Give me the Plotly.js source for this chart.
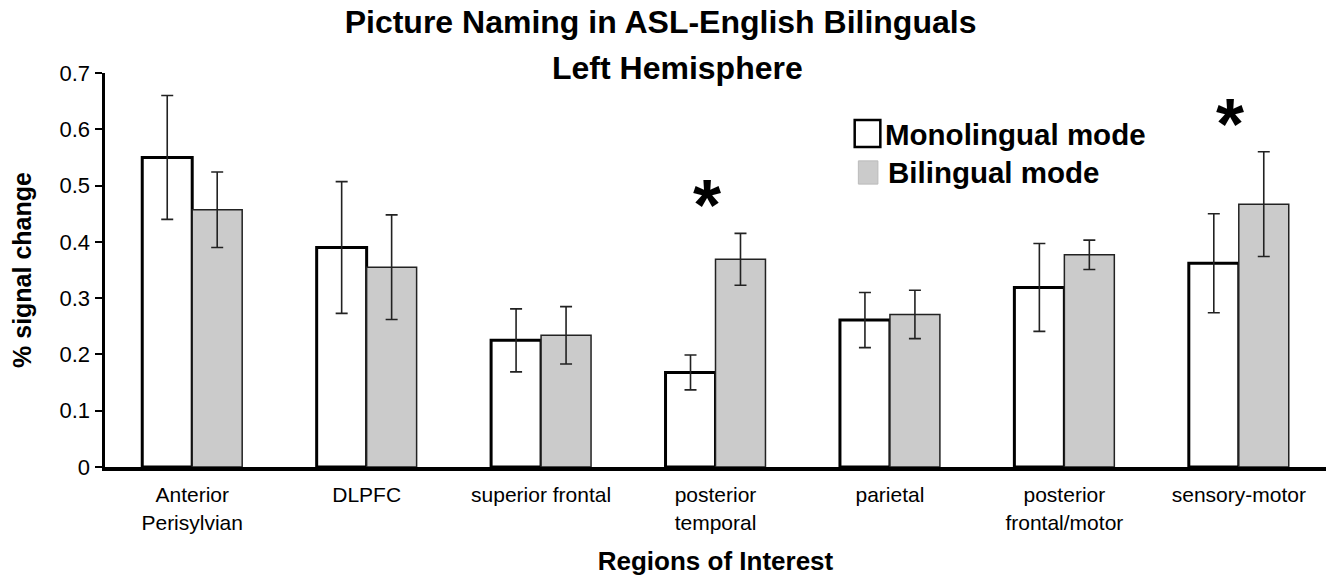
<!DOCTYPE html>
<html>
<head>
<meta charset="utf-8">
<script src="https://cdn.plot.ly/plotly-3.0.1.min.js"></script>
<style>html,body{margin:0;padding:0;background:#fff;}#chart{width:1336px;height:579px;}</style>
</head>
<body>
<div id="chart"></div>
<script>
const categories = ["Anterior<br>Perisylvian", "DLPFC", "superior frontal", "posterior<br>temporal", "parietal", "posterior<br>frontal/motor", "sensory-motor"];
const seriesNames = ["Monolingual mode", "Bilingual mode"];
const monolingual = [0.55, 0.39, 0.225, 0.168, 0.261, 0.319, 0.362];
const monolingualErr = [0.11, 0.117, 0.056, 0.031, 0.049, 0.078, 0.088];
const bilingual = [0.457, 0.355, 0.234, 0.369, 0.271, 0.377, 0.467];
const bilingualErr = [0.067, 0.093, 0.051, 0.046, 0.043, 0.026, 0.093];
const significant = [3, 6];
const yTicks = [0, 0.1, 0.2, 0.3, 0.4, 0.5, 0.6, 0.7];
const titleLines = ["Picture Naming in ASL-English Bilinguals", "Left Hemisphere"];

const FONT = "Liberation Sans, Arial, sans-serif";
const xIdx = categories.map((c, i) => i);

const traces = [
  {
    type: "bar", name: seriesNames[0], x: xIdx, y: monolingual,
    marker: {color: "#ffffff", line: {color: "#000000", width: 3}},
    error_y: {type: "data", array: monolingualErr, visible: true, color: "#222222", thickness: 1.6, width: 6},
    showlegend: false, hoverinfo: "y"
  },
  {
    type: "bar", name: seriesNames[1], x: xIdx, y: bilingual,
    marker: {color: "#cbcbcb", line: {color: "#222222", width: 1.5}},
    error_y: {type: "data", array: bilingualErr, visible: true, color: "#222222", thickness: 1.6, width: 6},
    showlegend: false, hoverinfo: "y"
  }
];

const annotations = [];
significant.forEach(i => {
  const top = Math.max(monolingual[i] + monolingualErr[i], bilingual[i] + bilingualErr[i]);
  annotations.push({
    x: i, y: top, xref: "x", yref: "y", text: "<b>*</b>", showarrow: false,
    font: {family: FONT, size: 72, color: "#000"}, xshift: -9, yshift: 28, yanchor: "middle"
  });
});
// second title line
annotations.push({xref: "paper", yref: "paper", x: 0.469, y: 1.0127, xanchor: "center", yanchor: "middle",
  text: "<b>" + titleLines[1] + "</b>", showarrow: false, font: {family: FONT, size: 32, color: "#000"}});
// legend drawn as annotations + shapes
annotations.push({xref: "paper", yref: "paper", x: 0.637, y: 0.845, xanchor: "left", yanchor: "middle",
  text: "<b>" + seriesNames[0] + "</b>", showarrow: false, font: {family: FONT, size: 29.5, color: "#000"}});
annotations.push({xref: "paper", yref: "paper", x: 0.640, y: 0.747, xanchor: "left", yanchor: "middle",
  text: "<b>" + seriesNames[1] + "</b>", showarrow: false, font: {family: FONT, size: 29.5, color: "#000"}});

const shapes = [
  {type: "rect", xref: "paper", yref: "paper", x0: 0.614, x1: 0.635, y0: 0.812, y1: 0.881,
   line: {color: "#000", width: 2.5}, fillcolor: "#fff"},
  {type: "rect", xref: "paper", yref: "paper", x0: 0.617, x1: 0.633, y0: 0.718, y1: 0.777,
   line: {color: "#bbb", width: 1}, fillcolor: "#cbcbcb"}
];

const layout = {
  width: 1336, height: 579,
  margin: {l: 105, r: 10, t: 73, b: 112},
  paper_bgcolor: "#fff", plot_bgcolor: "#fff",
  title: {text: "<b>" + titleLines[0] + "</b>",
    xref: "paper", x: 0.455, xanchor: "center", yref: "container", y: 1 - 22 / 579, yanchor: "middle",
    font: {family: FONT, size: 32, color: "#000"}},
  barmode: "group", bargap: 0.427, bargroupgap: 0,
  xaxis: {
    type: "linear", range: [-0.5, 6.5], tickmode: "array", tickvals: xIdx, ticktext: categories,
    showline: true, linecolor: "#000", linewidth: 4, ticks: "", showgrid: false, zeroline: false,
    ticklabelstandoff: 6,
    tickfont: {family: FONT, size: 21, color: "#000"},
    title: {text: "<b>Regions of Interest</b>", font: {family: FONT, size: 26, color: "#000"}, standoff: 20}
  },
  yaxis: {
    range: [0, 0.7], tickmode: "array", tickvals: yTicks, ticktext: yTicks.map(v => String(v)),
    showline: true, linecolor: "#000", linewidth: 3.5, ticks: "outside", ticklen: 7, tickwidth: 2, tickcolor: "#000",
    showgrid: false, zeroline: false,
    tickfont: {family: FONT, size: 22, color: "#000"},
    title: {text: "<b>% signal change</b>", font: {family: FONT, size: 25, color: "#000"}, standoff: 22}
  },
  annotations: annotations,
  shapes: shapes,
  showlegend: false
};

Plotly.newPlot("chart", traces, layout, {displayModeBar: false, staticPlot: true});
</script>
</body>
</html>
